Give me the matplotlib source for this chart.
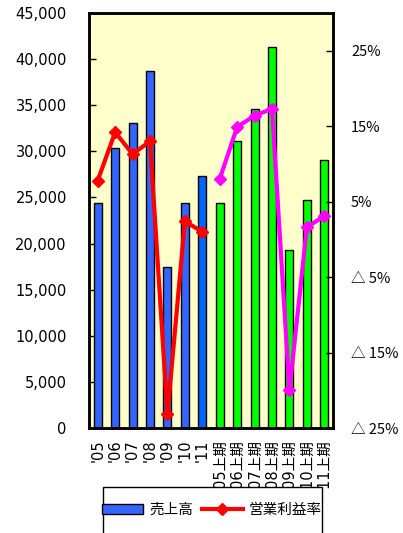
import matplotlib
matplotlib.use("Agg")
import matplotlib.pyplot as plt
from matplotlib.patches import Rectangle, Patch
from matplotlib.lines import Line2D
from matplotlib.ticker import FuncFormatter

plt.rcParams['font.family'] = ['DejaVu Sans', 'Noto Sans CJK JP']

annual_labels = ["'05", "'06", "'07", "'08", "'09", "'10", "'11"]
half_labels = ["'05上期", "'06上期", "'07上期", "'08上期", "'09上期", "'10上期", "'11上期"]
annual_sales = [24400, 30400, 33100, 38700, 17500, 24400, 27300]
half_sales = [24400, 31100, 34600, 41300, 19300, 24700, 29100]
annual_margin = [7.8, 14.2, 11.3, 13.0, -23.2, 2.4, 1.0]
half_margin = [8.0, 14.9, 16.4, 17.3, -20.0, 1.6, 3.1]
right_ticks = [-25, -15, -5, 5, 15, 25]
right_tick_labels = ["△ 25%", "△ 15%", "△ 5%", "5%", "15%", "25%"]
legend_labels = ["売上高", "営業利益率"]

W, H = 403, 533
fig = plt.figure(figsize=(W / 100, H / 100), dpi=100)
ax = fig.add_axes([89 / W, 1 - 428 / H, (333 - 89) / W, (428 - 13) / H])
ax.set_facecolor('#FFFFCC')

labels = annual_labels + half_labels
sales = annual_sales + half_sales
n = len(labels)
x = list(range(n))
colors = ['#3366FF'] * 6 + ['#0066FF'] + ['#00FF00'] * 7
ax.bar(x, sales, width=0.46, color=colors, edgecolor='black', linewidth=1.0, zorder=2)
ax.set_xlim(-0.5, n - 0.5)
ax.set_ylim(0, 45000)
ax.set_yticks(range(0, 45001, 5000))
ax.yaxis.set_major_formatter(FuncFormatter(lambda v, p: f"{int(v):,}"))
ax.tick_params(axis='y', direction='in', length=5, width=1, pad=16, labelsize=10.5)
ax.set_xticks(x)
ax.set_xticklabels(labels, rotation=90, fontsize=10.5)
ax.tick_params(axis='x', length=0, pad=8)
for s in ax.spines.values():
    s.set_linewidth(1.8)

ax2 = ax.twinx()
ax2.set_ylim(-25, 30)
ax2.plot(x[:7], annual_margin, color='#FF0000', lw=3, marker='D', ms=6.5, zorder=3)
ax2.plot(x[7:], half_margin, color='#FF00FF', lw=3, marker='D', ms=6.5, zorder=3)
ax2.set_yticks(right_ticks)
ax2.set_yticklabels(right_tick_labels, family=['Noto Sans CJK JP', 'DejaVu Sans'], fontsize=10.5)
ax2.tick_params(axis='y', direction='in', length=5, width=1, pad=13)
for s in ax2.spines.values():
    s.set_linewidth(1.8)

# legend frame
fig.patches.append(Rectangle((103 / W, -0.05), (322 - 103) / W, (1 - 487 / H) + 0.05,
                             transform=fig.transFigure, facecolor='white',
                             edgecolor='black', linewidth=1.0))
handles = [Patch(facecolor='#3366FF', edgecolor='black', linewidth=1.0),
           Line2D([], [], color='#FF0000', lw=3, marker='D', ms=6.5)]
fig.legend(handles, legend_labels, loc='center', bbox_to_anchor=(212 / W, 1 - 510 / H),
           ncol=2, frameon=False, fontsize=10.5, handlelength=2.8, handletextpad=0.4,
           columnspacing=0.6, prop={'family': ['Noto Sans CJK JP', 'DejaVu Sans'], 'size': 10.5})

fig.savefig('out.png', dpi=100)
